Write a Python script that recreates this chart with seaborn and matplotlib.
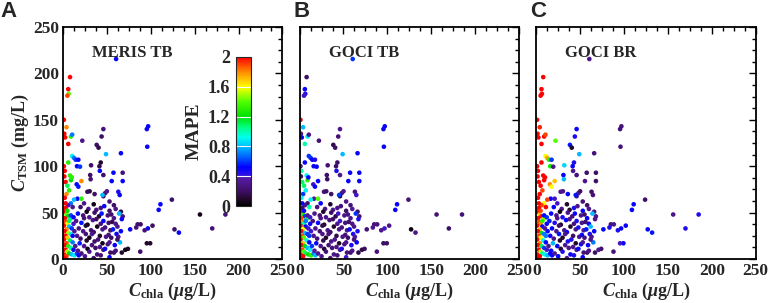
import matplotlib
matplotlib.use('Agg')
import matplotlib.pyplot as plt
import seaborn as sns
import numpy as np
from matplotlib.colors import LinearSegmentedColormap, Normalize
from matplotlib.cm import ScalarMappable
from matplotlib.ticker import MultipleLocator, AutoMinorLocator

sns.set_theme(style='white')
plt.rcParams['font.family'] = ['Liberation Serif', 'DejaVu Serif']
plt.rcParams['font.weight'] = 'bold'
plt.rcParams['mathtext.fontset'] = 'custom'
plt.rcParams['mathtext.rm'] = 'Liberation Serif:bold'
plt.rcParams['mathtext.it'] = 'Liberation Serif:italic:bold'
plt.rcParams['mathtext.bf'] = 'Liberation Serif:bold'

# 데이터: Chla, TSM 및 세 알고리즘의 MAPE
chla = [
    # y축 근처
    8, 6, 6.5, 5, 1, 4, 1.5, 2.5, 9, 10.5,
    6, 1, 2, 1.5, 3, 6, 8, 9, 5, 7,
    4, 2, 10.5, 12.5, 14.5, 16, 10, 21, 15.6, 17.5,
    16.5, 21, 12.6, 9, 6, 3, 1, 11, 4, 6,
    2, 8, 3, 5, 1, 7, 10, 4, 2, 6,
    9, 3, 5, 1, 8, 11, 4, 2, 6, 9,
    3, 5, 7, 1, 4, 10, 12, 14, 2, 13,
    16, 18, 7, 9, 12, 5, 12, 13, 11, 3,
    # 흩어진 점
    60.5, 22, 46, 44, 38.4, 40.5, 43, 41.5, 32, 49,
    66, 42, 57.5, 68, 31, 31.5, 46, 55.5, 68, 63,
    64.6, 27.8, 30.4, 48, 50, 46, 45, 19.4, 17.5, 36,
    24, 53, 58,
    95.5, 97, 96, 111, 109, 124, 156, 185, 170, 127,
    132, 85, 88.4, 83.4, 96.7, 93, 76.5, 99.3, 95.5, 74,
    71, 58, 65, 102, 88,
    # 주 군집
    20, 29, 35, 43, 47, 53, 60, 66, 38,
    17, 23, 27, 30, 36, 41, 44, 51, 55, 58, 64, 68,
    15, 21, 24, 28, 34, 38, 43, 46, 52, 56, 60, 67,
    18, 23, 26, 32, 35, 39, 45, 48, 54, 57, 62, 66,
    16, 20, 26, 30, 33, 40, 42, 49, 52, 55, 61, 63,
    19, 24, 27, 33, 36, 42, 45, 51, 53, 59, 62,
    17, 21, 28, 30, 37, 39, 46, 48, 54, 60, 67,
    25, 35, 43, 53,
]

tsm = [
    196, 183, 178, 176, 150, 142, 135, 131, 132, 134,
    124, 100, 95, 89, 83, 104, 90, 85, 79, 74,
    70, 66, 111, 109, 107, 100, 88, 84, 80.5, 78,
    65, 65, 64, 60, 58, 55, 51, 56, 48, 46,
    44, 43, 40, 38, 36, 35, 33, 32, 30, 28,
    27, 25, 23, 21, 20, 18, 17, 15, 14, 12,
    10, 8, 6, 5, 3, 5, 10, 14, 1, 4,
    6, 4, 41, 47, 45, 52, 38, 30, 25, 60,
    215.5, 127.5, 140, 132, 123, 120, 104, 100, 101, 113,
    114, 95, 93, 93, 90.5, 86, 90.5, 84, 84, 72.5,
    69, 72.5, 73, 71, 73, 67.7, 69, 99.5, 107, 70,
    60, 62, 58,
    140, 143, 121, 59, 53, 64, 48, 48, 33, 32,
    28.5, 37.4, 37.4, 34, 33, 31, 32, 17, 17, 11,
    10, 7, 18, 36, 8,
    56, 54, 59, 55, 57, 52, 54, 51, 53,
    49, 47, 51, 45, 50, 46, 49, 47, 48, 44, 49, 46,
    41, 39, 44, 37, 42, 43, 38, 41, 39, 40, 38, 43,
    33, 30, 36, 31, 29, 35, 32, 34, 31, 32, 35, 30,
    25, 22, 27, 23, 27, 21, 25, 24, 26, 23, 27, 24,
    17, 14, 20, 15, 19, 13, 17, 16, 18, 15, 21,
    9, 6, 11, 8, 12, 5, 10, 11, 7, 9, 7,
    3, 1, 4, 2,
]

mape_meris_tb = [
    2.0, 2.0, 1.4, 1.9, 2.0, 1.8, 2.0, 2.0, 1.3, 0.7,
    2.0, 2.0, 2.0, 2.0, 2.0, 1.3, 1.3, 1.2, 1.1, 1.3,
    1.8, 2.0, 0.9, 0.7, 0.6, 0.5, 1.3, 1.8, 0.5, 0.55,
    0.5, 1.3, 0.8, 0.7, 0.4, 2.0, 2.0, 0.3, 1.4, 1.2,
    2.0, 1.0, 1.9, 1.6, 2.0, 0.8, 0.6, 1.8, 2.0, 1.5,
    0.9, 2.0, 1.7, 2.0, 1.1, 0.7, 1.9, 2.0, 1.3, 1.0,
    2.0, 1.5, 1.2, 2.0, 1.9, 0.8, 0.5, 0.3, 2.0, 0.9,
    0.6, 0.5, 1.1, 0.6, 0.5, 1.2, 0.4, 0.3, 0.5, 2.0,
    0.5, 0.3, 0.25, 0.2, 0.2, 0.15, 0.1, 0.15, 0.2, 0.8,
    0.5, 0.5, 0.5, 0.25, 0.2, 0.25, 0.2, 0.5, 0.5, 0.45,
    0.5, 0.2, 0.15, 0.25, 0.3, 0.2, 0.8, 0.6, 0.5, 0.2,
    0.3, 0.25, 0.2,
    0.5, 0.5, 0.5, 0.5, 0.5, 0.2, 0.05, 0.25, 0.25, 0.2,
    0.5, 0.2, 0.2, 0.25, 0.5, 0.25, 0.5, 0.1, 0.1, 0.1,
    0.05, 0.2, 0.8, 0.2, 0.2,
    0.2, 0.3, 0.05, 0.25, 0.5, 0.2, 0.3, 0.15, 0.25,
    0.5, 0.25, 0.05, 0.3, 0.2, 0.1, 0.55, 0.25, 0.2, 0.3, 0.8, 0.25,
    0.3, 0.55, 0.25, 0.05, 0.3, 0.2, 0.25, 0.5, 0.2, 0.15, 0.3, 0.5,
    0.25, 0.3, 0.1, 0.25, 0.2, 0.05, 0.3, 0.25, 0.2, 0.55, 0.3, 0.5,
    0.3, 0.2, 0.25, 0.05, 0.3, 0.25, 0.1, 0.3, 0.25, 0.2, 0.5, 0.3,
    0.55, 0.3, 0.1, 0.25, 0.2, 0.3, 0.05, 0.25, 0.3, 0.5, 0.2,
    0.3, 0.25, 0.05, 0.3, 0.2, 0.25, 0.3, 0.5, 0.2, 0.25, 0.1,
    0.3, 0.2, 0.25, 0.5,
]

mape_goci_tb = [
    0.2, 0.5, 0.45, 0.4, 2.0, 0.8, 0.3, 0.5, 0.9, 0.3,
    1.0, 0.3, 1.0, 0.2, 1.1, 0.5, 0.9, 1.3, 1.1, 0.9,
    0.6, 0.9, 0.6, 0.6, 0.5, 0.5, 0.5, 0.5, 0.4, 0.5,
    0.35, 1.4, 0.9, 0.2, 0.3, 0.2, 2.0, 1.0, 1.3, 0.6,
    1.9, 1.1, 1.8, 1.0, 2.0, 0.5, 0.4, 1.6, 2.0, 0.8,
    0.6, 1.9, 1.4, 2.0, 0.9, 0.5, 1.7, 2.0, 1.2, 0.8,
    1.9, 1.4, 1.1, 2.0, 2.0, 1.2, 0.9, 0.6, 2.0, 1.3,
    0.7, 0.8, 0.7, 0.3, 0.4, 0.5, 0.5, 0.4, 0.6, 0.5,
    0.6, 0.25, 0.3, 0.25, 0.15, 0.2, 0.2, 0.2, 0.25, 0.8,
    0.5, 0.45, 0.5, 0.5, 0.2, 0.2, 0.3, 0.5, 0.5, 0.25,
    0.4, 0.25, 0.2, 0.25, 0.3, 0.1, 0.6, 0.5, 0.45, 0.2,
    0.5, 0.3, 0.25,
    0.5, 0.5, 0.5, 0.5, 0.5, 0.25, 0.25, 0.25, 0.2, 0.05,
    0.3, 0.25, 0.25, 0.3, 0.4, 0.3, 0.25, 0.2, 0.2, 0.2,
    0.15, 0.2, 0.5, 0.3, 0.25,
    0.25, 0.3, 0.1, 0.3, 0.25, 0.2, 0.35, 0.2, 0.3,
    0.3, 0.25, 0.1, 0.3, 0.2, 0.15, 0.4, 0.3, 0.25, 0.3, 0.6, 0.25,
    0.25, 0.5, 0.3, 0.1, 0.25, 0.2, 0.3, 0.4, 0.25, 0.2, 0.3, 0.45,
    0.3, 0.25, 0.15, 0.3, 0.2, 0.1, 0.3, 0.25, 0.3, 0.5, 0.3, 0.45,
    0.3, 0.25, 0.3, 0.1, 0.25, 0.3, 0.15, 0.3, 0.25, 0.2, 0.45, 0.35,
    0.5, 0.3, 0.15, 0.25, 0.3, 0.3, 0.1, 0.25, 0.3, 0.45, 0.25,
    0.35, 0.3, 0.1, 0.25, 0.25, 0.3, 0.3, 0.45, 0.25, 0.3, 0.15,
    0.3, 0.25, 0.25, 0.4,
]

mape_goci_br = [
    2.0, 2.0, 2.0, 2.0, 2.0, 1.95, 2.0, 2.0, 2.0, 1.9,
    2.0, 2.0, 2.0, 2.0, 2.0, 2.0, 2.0, 2.0, 2.0, 1.9,
    2.0, 2.0, 1.6, 1.75, 1.3, 1.25, 2.0, 1.7, 1.8, 1.6,
    0.5, 0.4, 1.9, 1.6, 1.9, 2.0, 2.0, 2.0, 1.7, 2.0,
    2.0, 1.5, 1.9, 1.8, 2.0, 0.5, 0.3, 1.7, 2.0, 1.2,
    0.7, 1.9, 1.6, 2.0, 0.9, 0.5, 1.8, 2.0, 1.1, 0.6,
    2.0, 1.5, 1.0, 2.0, 2.0, 0.9, 0.4, 0.3, 2.0, 0.8,
    0.5, 0.5, 1.3, 0.5, 0.6, 1.9, 0.5, 0.5, 0.7, 2.0,
    0.3, 1.4, 0.5, 0.45, 0.55, 0.1, 0.45, 0.5, 0.85, 0.8,
    0.25, 0.3, 0.2, 0.2, 0.5, 0.8, 0.25, 0.3, 0.2, 0.2,
    0.25, 0.3, 0.3, 0.3, 0.2, 0.25, 0.55, 0.3, 0.6, 0.5,
    0.4, 0.25, 0.2,
    0.25, 0.25, 0.25, 0.5, 0.5, 0.2, 0.3, 0.45, 0.45, 0.5,
    0.55, 0.25, 0.3, 0.45, 0.5, 0.45, 0.5, 0.5, 0.4, 0.2,
    0.3, 0.2, 0.7, 0.5, 0.25,
    0.5, 0.3, 0.1, 0.45, 0.3, 0.5, 0.3, 0.25, 0.1,
    0.5, 0.3, 0.05, 0.45, 0.3, 0.25, 0.5, 0.3, 0.2, 0.5, 0.8, 0.3,
    0.55, 0.45, 0.3, 0.1, 0.5, 0.3, 0.25, 0.45, 0.3, 0.2, 0.5, 0.3,
    0.5, 0.3, 0.2, 0.3, 0.5, 0.1, 0.3, 0.45, 0.3, 0.55, 0.8, 0.5,
    0.5, 0.3, 0.55, 0.1, 0.3, 0.45, 0.2, 0.3, 0.5, 0.25, 0.45, 0.3,
    0.8, 0.5, 0.1, 0.3, 0.45, 0.3, 0.1, 0.5, 0.3, 0.5, 0.3,
    0.5, 0.3, 0.1, 0.45, 0.3, 0.5, 0.3, 0.5, 0.25, 0.3, 0.2,
    0.5, 0.3, 0.45, 0.5,
]

panel_letters = ['A', 'B', 'C']
panel_titles = ['MERIS TB', 'GOCI TB', 'GOCI BR']
cbar_ticks = [0, 0.4, 0.8, 1.2, 1.6, 2]
cbar_labels = ['0', '0.4', '0.8', '1.2', '1.6', '2']

assert len(chla) == len(tsm) == len(mape_meris_tb) == len(mape_goci_tb) == len(mape_goci_br)

# 컬러맵 (검정 -> 보라 -> 파랑 -> 청록 -> 초록 -> 노랑 -> 빨강)
cmap = LinearSegmentedColormap.from_list('mape', [
    (0.0, '#000000'), (0.05, '#24082e'), (0.1, '#3e0f68'), (0.19, '#5a1aa8'),
    (0.21, '#2a10e8'), (0.26, '#0000ff'), (0.34, '#0070ff'), (0.41, '#00c8ff'),
    (0.46, '#00ffee'), (0.53, '#00ff80'), (0.6, '#00e000'), (0.7, '#50ff00'),
    (0.8, '#ffff00'), (0.9, '#ff8c00'), (1.0, '#ff0000')])
norm = Normalize(0, 2)

fig, axes = plt.subplots(1, 3, figsize=(7.68, 3.03), dpi=100)
fig.subplots_adjust(left=0.082, right=0.984, bottom=0.145, top=0.911, wspace=0.078)

for ax, mape, letter, title in zip(axes, [mape_meris_tb, mape_goci_tb, mape_goci_br],
                                   panel_letters, panel_titles):
    sns.scatterplot(x=chla, y=tsm, hue=mape, palette=cmap, hue_norm=norm,
                    s=11, linewidth=0, legend=False, ax=ax)
    ax.set_xlim(0, 250)
    ax.set_ylim(0, 250)
    ax.xaxis.set_major_locator(MultipleLocator(50))
    ax.yaxis.set_major_locator(MultipleLocator(50))
    ax.xaxis.set_minor_locator(AutoMinorLocator(4))
    ax.yaxis.set_minor_locator(AutoMinorLocator(4))
    ax.tick_params(which='both', direction='in', top=True, right=True,
                   color='black', width=1.0, labelsize=12.5, pad=3)
    ax.tick_params(which='major', length=5)
    ax.tick_params(which='minor', length=3)
    for sp in ax.spines.values():
        sp.set_color('black')
        sp.set_linewidth(1.3)
    ax.set_xlabel(r'$\mathit{C}_{\mathbf{chla}}$ ($\mathit{\mu}$g/L)', fontsize=13,
                  fontweight='bold', labelpad=1)
    ax.text(33, 222, title, fontsize=12, fontweight='bold', va='center', ha='left')
    pos = ax.get_position()
    fig.text(pos.x0 - (0.081 if letter == 'A' else 0.008), 0.998, letter,
             family='Liberation Sans', fontsize=16, fontweight='bold', va='top', ha='left')

axes[0].set_ylabel(r'$\mathit{C}_{\mathbf{TSM}}$ (mg/L)', fontsize=13,
                   fontweight='bold', labelpad=1)
for ax in axes[1:]:
    ax.set_ylabel('')
    ax.tick_params(labelleft=False)

# 색상 막대 (A 패널 내부)
cax = fig.add_axes([0.307, 0.320, 0.0195, 0.492])
sm = ScalarMappable(norm=norm, cmap=cmap)
cb = fig.colorbar(sm, cax=cax, ticks=cbar_ticks)
cb.ax.set_yticklabels(cbar_labels)
cb.ax.yaxis.set_ticks_position('left')
cb.ax.yaxis.set_label_position('left')
cb.ax.tick_params(length=0, labelsize=13, pad=4)
cb.outline.set_linewidth(0.8)
for t in cbar_ticks[1:-1]:
    cb.ax.axhline(t, color='white', linewidth=0.8)
cb.set_label('MAPE', fontsize=14, fontweight='bold', labelpad=4)

plt.savefig('out.png', dpi=100)
